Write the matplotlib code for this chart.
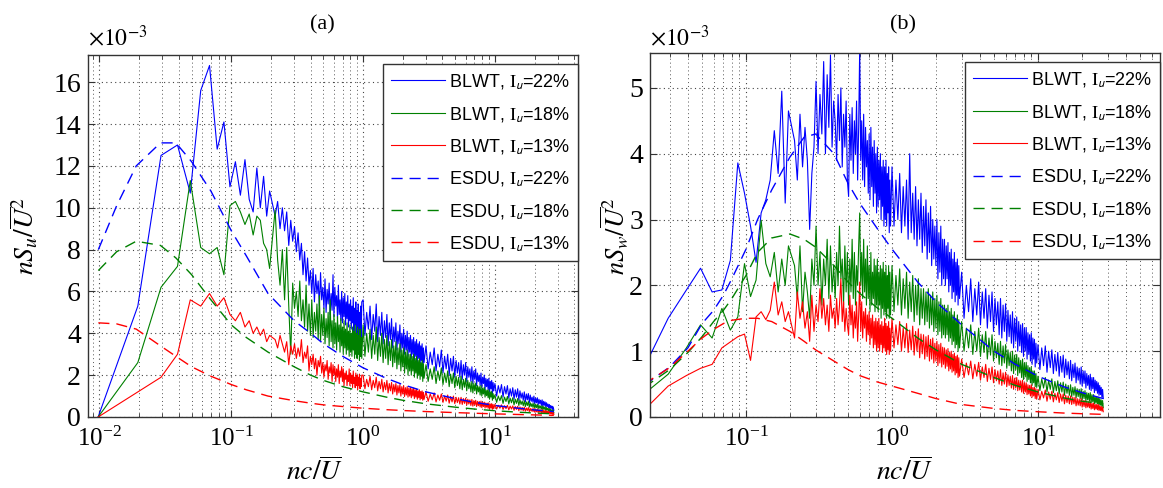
import numpy as np
import matplotlib
matplotlib.use("Agg")
import matplotlib.pyplot as plt
from matplotlib.ticker import LogLocator, NullFormatter, FixedLocator

plt.rcParams['font.family'] = ['Liberation Serif', 'DejaVu Serif']
plt.rcParams['mathtext.fontset'] = 'stix'

# ---------------- frequency grid (reduced frequency nc/U) ----------------
df = 0.009766
freq = np.concatenate([df * np.arange(1, 21),
                       np.linspace(0.215, 0.977, 80),
                       np.linspace(1.0, 2.9, 60),
                       np.linspace(3.0, 9.8, 60),
                       np.linspace(10.0, 28.0, 60)])
freq_a = freq
freq_b = freq[1:]

# ---------------- panel (a): nSu/U^2 (x 1e-3) ----------------
blwt22_a = [0.0, 5.3, 12.5, 13.0, 10.7, 15.6, 16.8, 12.8, 14.1, 11.0,
            12.2, 10.6, 12.3, 10.4, 9.8, 11.9, 10.0, 11.5, 9.6, 10.8,
            # 0.215 - 0.977
            9.6, 10.3, 9.0, 10.0, 8.9, 9.8, 8.2, 9.4, 8.4, 9.1,
            7.9, 8.8, 7.5, 8.3, 6.8, 7.9, 6.5, 7.6, 6.3, 7.0,
            5.9, 7.1, 5.5, 6.8, 5.9, 6.5, 5.3, 6.9, 5.6, 6.2,
            5.2, 6.6, 5.0, 6.1, 5.4, 6.4, 4.9, 5.9, 5.1, 6.8,
            4.8, 6.2, 5.3, 5.8, 4.7, 6.3, 4.9, 5.6, 4.6, 6.0,
            4.5, 5.7, 4.8, 5.9, 4.4, 5.5, 4.7, 5.8, 4.3, 5.4,
            4.6, 5.6, 4.2, 5.3, 4.5, 5.7, 4.1, 5.2, 4.4, 5.5,
            4.0, 5.1, 4.3, 5.4, 3.9, 5.0, 4.2, 5.3, 3.8, 5.5,
            # 1.0 - 2.9
            5.6, 3.9, 5.0, 4.2, 5.3, 3.7, 4.9, 4.1, 5.4, 3.6,
            4.8, 3.9, 5.0, 3.5, 4.6, 3.8, 4.9, 3.4, 4.5, 3.7,
            4.7, 3.3, 4.3, 3.6, 4.5, 3.2, 4.1, 3.5, 4.4, 3.1,
            4.0, 3.3, 4.2, 3.0, 3.9, 3.2, 4.1, 2.9, 3.8, 3.1,
            3.9, 2.8, 3.7, 3.0, 3.8, 2.7, 3.6, 2.9, 3.7, 2.6,
            3.5, 2.8, 3.6, 2.5, 3.4, 2.7, 3.5, 2.4, 3.3, 2.6,
            # 3.0 - 9.8
            3.4, 2.3, 3.1, 2.5, 3.3, 2.2, 3.0, 2.4, 3.2, 2.1,
            2.9, 2.3, 3.0, 2.0, 2.8, 2.2, 2.9, 1.9, 2.7, 2.1,
            2.6, 1.9, 2.7, 1.8, 2.5, 2.0, 2.6, 1.7, 2.4, 1.9,
            2.3, 1.7, 2.4, 1.6, 2.2, 1.8, 2.3, 1.5, 2.1, 1.7,
            2.0, 1.5, 2.1, 1.4, 1.9, 1.6, 2.0, 1.3, 1.85, 1.45,
            1.8, 1.3, 1.85, 1.2, 1.7, 1.35, 1.75, 1.1, 1.65, 1.25,
            # 10 - 28
            1.6, 1.0, 1.5, 1.15, 1.55, 0.95, 1.45, 1.1, 1.5, 0.9,
            1.35, 1.0, 1.4, 0.85, 1.3, 0.95, 1.35, 0.8, 1.25, 0.9,
            1.15, 0.8, 1.2, 0.72, 1.1, 0.82, 1.12, 0.68, 1.05, 0.75,
            0.95, 0.7, 1.0, 0.62, 0.9, 0.68, 0.92, 0.58, 0.85, 0.64,
            0.8, 0.55, 0.82, 0.5, 0.75, 0.56, 0.72, 0.47, 0.68, 0.5,
            0.62, 0.44, 0.6, 0.4, 0.55, 0.42, 0.52, 0.36, 0.48, 0.32]
blwt18_a = [0.0, 2.6, 6.2, 7.2, 11.3, 8.1, 7.8, 8.1, 6.8, 10.1,
            10.3, 9.8, 9.2, 9.7, 8.7, 9.6, 9.4, 8.3, 8.0, 7.1,
            # 0.215 - 0.977
            9.9, 7.5, 6.3, 8.0, 5.6, 8.1, 5.3, 3.0, 6.4, 5.2,
            6.0, 4.8, 6.5, 4.6, 5.6, 4.3, 6.3, 4.1, 5.4, 3.9,
            5.6, 3.8, 5.0, 4.1, 5.4, 3.7, 5.8, 3.6, 4.9, 3.9,
            5.2, 3.5, 4.7, 3.8, 5.0, 3.4, 5.6, 3.6, 4.6, 3.3,
            4.9, 3.5, 4.5, 3.2, 4.8, 3.6, 4.4, 3.1, 4.7, 3.4,
            4.3, 3.0, 4.6, 3.3, 4.2, 3.0, 4.5, 3.2, 4.1, 2.9,
            4.4, 3.1, 4.0, 2.9, 4.3, 3.2, 4.1, 2.8, 4.4, 3.0,
            4.0, 2.8, 4.3, 3.0, 3.9, 2.7, 4.2, 2.9, 3.8, 2.8,
            # 1.0 - 2.9
            4.4, 2.9, 4.0, 3.1, 4.2, 2.8, 3.9, 3.0, 4.3, 2.7,
            3.8, 2.9, 4.0, 2.6, 3.7, 2.8, 3.9, 2.5, 3.6, 2.7,
            3.7, 2.4, 3.4, 2.6, 3.6, 2.3, 3.3, 2.5, 3.5, 2.2,
            3.2, 2.4, 3.3, 2.1, 3.1, 2.3, 3.2, 2.0, 3.0, 2.2,
            3.0, 2.0, 2.9, 2.2, 3.0, 1.9, 2.8, 2.1, 2.9, 1.85,
            2.7, 2.0, 2.8, 1.8, 2.6, 1.95, 2.7, 1.7, 2.55, 1.85,
            # 3.0 - 9.8
            2.5, 1.7, 2.3, 1.8, 2.4, 1.6, 2.2, 1.75, 2.35, 1.55,
            2.1, 1.65, 2.2, 1.45, 2.05, 1.6, 2.1, 1.4, 1.95, 1.5,
            1.9, 1.35, 1.95, 1.3, 1.8, 1.42, 1.85, 1.25, 1.75, 1.35,
            1.65, 1.2, 1.7, 1.15, 1.6, 1.25, 1.62, 1.1, 1.5, 1.2,
            1.45, 1.05, 1.5, 1.0, 1.38, 1.1, 1.42, 0.95, 1.3, 1.02,
            1.28, 0.92, 1.3, 0.85, 1.2, 0.95, 1.22, 0.8, 1.12, 0.88,
            # 10 - 28
            1.05, 0.7, 1.0, 0.78, 1.02, 0.65, 0.95, 0.74, 0.98, 0.62,
            0.9, 0.68, 0.92, 0.58, 0.85, 0.65, 0.88, 0.55, 0.82, 0.6,
            0.76, 0.54, 0.78, 0.5, 0.72, 0.55, 0.74, 0.47, 0.68, 0.5,
            0.64, 0.46, 0.66, 0.42, 0.6, 0.45, 0.6, 0.39, 0.56, 0.42,
            0.52, 0.38, 0.54, 0.34, 0.49, 0.37, 0.48, 0.31, 0.45, 0.33,
            0.42, 0.3, 0.4, 0.27, 0.37, 0.28, 0.34, 0.23, 0.31, 0.2]
blwt13_a = [0.0, 1.2, 1.9, 3.0, 5.6, 5.3, 5.9, 5.3, 5.7, 4.9,
            4.6, 5.0, 4.3, 4.6, 4.0, 4.3, 3.9, 4.2, 3.6, 3.9,
            # 0.215 - 0.977
            3.7, 3.3, 3.9, 3.5, 3.1, 3.6, 2.5, 3.4, 3.0, 3.5,
            2.8, 3.3, 2.9, 3.7, 2.6, 3.1, 2.8, 3.4, 2.2, 2.9,
            2.5, 3.0, 2.3, 2.8, 2.0, 2.7, 2.4, 2.9, 2.1, 2.6,
            1.9, 2.5, 2.2, 2.7, 1.8, 2.4, 2.1, 2.6, 1.7, 2.5,
            2.0, 2.4, 1.7, 2.3, 1.9, 2.5, 1.6, 2.2, 1.9, 2.4,
            1.7, 2.3, 1.5, 2.1, 1.8, 2.2, 1.5, 2.0, 1.7, 2.3,
            1.5, 2.1, 1.6, 2.0, 1.4, 2.2, 1.6, 1.9, 1.4, 2.1,
            1.5, 2.0, 1.3, 1.9, 1.5, 2.05, 1.35, 1.85, 1.45, 2.0,
            # 1.0 - 2.9
            2.0, 1.35, 1.8, 1.45, 1.95, 1.3, 1.75, 1.4, 1.9, 1.25,
            1.7, 1.35, 1.8, 1.2, 1.65, 1.3, 1.75, 1.15, 1.6, 1.25,
            1.65, 1.1, 1.55, 1.2, 1.6, 1.05, 1.5, 1.15, 1.55, 1.0,
            1.45, 1.1, 1.5, 0.98, 1.4, 1.05, 1.45, 0.95, 1.38, 1.0,
            1.4, 0.92, 1.35, 1.0, 1.38, 0.88, 1.3, 0.95, 1.33, 0.85,
            1.25, 0.92, 1.3, 0.82, 1.22, 0.88, 1.25, 0.8, 1.18, 0.84,
            # 3.0 - 9.8
            1.2, 0.75, 1.1, 0.82, 1.15, 0.72, 1.05, 0.8, 1.1, 0.7,
            1.0, 0.76, 1.05, 0.66, 0.98, 0.72, 1.0, 0.64, 0.94, 0.69,
            0.92, 0.62, 0.94, 0.6, 0.88, 0.65, 0.9, 0.57, 0.85, 0.62,
            0.82, 0.55, 0.84, 0.52, 0.78, 0.57, 0.8, 0.5, 0.75, 0.54,
            0.74, 0.48, 0.76, 0.45, 0.7, 0.5, 0.71, 0.43, 0.67, 0.47,
            0.66, 0.42, 0.68, 0.39, 0.62, 0.43, 0.64, 0.37, 0.6, 0.4,
            # 10 - 28
            0.6, 0.38, 0.56, 0.42, 0.58, 0.36, 0.54, 0.4, 0.56, 0.34,
            0.52, 0.38, 0.53, 0.32, 0.5, 0.36, 0.51, 0.3, 0.48, 0.33,
            0.46, 0.3, 0.47, 0.28, 0.43, 0.31, 0.45, 0.26, 0.41, 0.28,
            0.4, 0.26, 0.41, 0.23, 0.37, 0.25, 0.38, 0.21, 0.35, 0.23,
            0.34, 0.21, 0.35, 0.19, 0.31, 0.2, 0.31, 0.17, 0.29, 0.18,
            0.28, 0.17, 0.27, 0.15, 0.25, 0.15, 0.23, 0.13, 0.21, 0.12]

esdu_freq_a = [0.0098, 0.0135, 0.019, 0.029, 0.038, 0.05, 0.07, 0.1, 0.13, 0.19,
               0.3, 0.4, 0.5, 0.7, 1.0, 1.5, 2, 3, 5, 7, 10, 15, 20, 28]
esdu22_a = [8.0, 10.1, 12.0, 13.1, 13.1, 12.2, 10.8, 8.9, 7.7, 5.9,
            4.6, 4.0, 3.5, 2.9, 2.35, 1.85, 1.55, 1.2, 0.88, 0.7, 0.55, 0.42, 0.34, 0.26]
esdu18_a = [7.0, 7.9, 8.4, 8.2, 7.6, 6.8, 5.6, 4.4, 3.8, 3.1,
            2.4, 2.0, 1.75, 1.45, 1.2, 0.95, 0.8, 0.63, 0.47, 0.38, 0.3, 0.23, 0.19, 0.15]
esdu13_a = [4.5, 4.45, 4.2, 3.4, 2.9, 2.4, 1.95, 1.55, 1.3, 1.0,
            0.78, 0.66, 0.58, 0.5, 0.42, 0.35, 0.31, 0.26, 0.21, 0.18, 0.15, 0.12, 0.1, 0.08]

# ---------------- panel (b): nSw/U^2 (x 1e-3) ----------------
blwt22_b = [0.7, 1.5, 1.93, 2.26, 1.9, 1.93, 2.38, 3.86, 3.4,
            2.9, 2.35, 3.1, 3.3, 3.6, 4.35, 3.7, 4.95, 3.25, 4.65,
            # 0.215 - 0.977
            4.2, 3.6, 4.6, 3.8, 4.4, 3.9, 2.85, 3.7, 4.1, 5.1,
            4.0, 4.9, 4.3, 5.4, 4.0, 5.2, 4.4, 5.5, 4.1, 4.8,
            4.5, 3.9, 4.9, 4.2, 5.0, 3.8, 4.6, 4.1, 4.8, 3.6,
            3.35, 4.6, 3.9, 4.7, 3.7, 4.5, 4.0, 4.8, 3.6, 4.4,
            5.6, 3.9, 4.5, 3.6, 4.6, 3.5, 4.4, 3.8, 4.2, 3.4,
            4.3, 3.3, 4.4, 3.5, 4.1, 3.2, 4.2, 3.4, 4.0, 3.1,
            4.1, 3.2, 3.9, 3.3, 4.0, 3.0, 3.8, 3.2, 3.9, 2.9,
            3.8, 3.0, 3.9, 2.9, 3.7, 3.1, 3.8, 2.8, 3.6, 2.9,
            # 1.0 - 2.9
            3.8, 2.9, 3.6, 3.0, 3.7, 2.8, 3.5, 2.9, 3.6, 2.7,
            4.0, 2.8, 3.4, 2.7, 3.5, 2.6, 3.3, 2.7, 3.4, 2.5,
            3.2, 2.6, 3.3, 2.4, 3.1, 2.5, 3.2, 2.3, 3.0, 2.4,
            2.9, 2.3, 3.0, 2.1, 2.8, 2.2, 2.9, 2.0, 2.7, 2.1,
            2.7, 2.0, 2.6, 2.1, 2.65, 1.9, 2.5, 2.0, 2.55, 1.8,
            2.4, 1.9, 2.5, 1.75, 2.35, 1.85, 2.4, 1.7, 2.3, 1.8,
            # 3.0 - 9.8
            2.2, 1.5, 2.0, 1.6, 2.1, 1.45, 1.95, 1.55, 2.05, 1.4,
            1.9, 1.5, 1.95, 1.35, 1.85, 1.45, 1.9, 1.3, 1.8, 1.4,
            1.75, 1.25, 1.8, 1.2, 1.7, 1.3, 1.72, 1.15, 1.62, 1.22,
            1.55, 1.12, 1.6, 1.05, 1.5, 1.15, 1.52, 1.0, 1.45, 1.08,
            1.4, 0.98, 1.42, 0.92, 1.35, 1.0, 1.36, 0.88, 1.28, 0.95,
            1.25, 0.85, 1.28, 0.8, 1.2, 0.88, 1.18, 0.76, 1.12, 0.82,
            # 10 - 28
            1.1, 0.72, 1.05, 0.78, 1.08, 0.68, 1.0, 0.75, 1.02, 0.66,
            0.95, 0.7, 0.98, 0.62, 0.92, 0.68, 0.94, 0.6, 0.88, 0.64,
            0.84, 0.58, 0.86, 0.55, 0.8, 0.6, 0.82, 0.52, 0.76, 0.56,
            0.74, 0.5, 0.76, 0.47, 0.7, 0.51, 0.7, 0.44, 0.66, 0.48,
            0.63, 0.42, 0.65, 0.4, 0.6, 0.43, 0.6, 0.37, 0.56, 0.4,
            0.54, 0.36, 0.52, 0.33, 0.48, 0.34, 0.45, 0.3, 0.42, 0.28]
blwt18_b = [0.33, 0.65, 1.05, 1.4, 1.2, 1.65, 1.32, 1.52, 2.33,
            1.83, 2.08, 2.99, 2.33, 2.13, 2.5, 1.9, 2.4, 2.0, 2.6,
            # 0.215 - 0.977
            2.3, 1.8, 2.6, 1.6, 2.2, 1.9, 1.5, 2.4, 2.0, 2.9,
            2.0, 2.5, 1.7, 2.4, 2.0, 2.7, 1.8, 2.6, 1.9, 2.3,
            1.8, 2.5, 2.0, 2.9, 2.1, 2.4, 1.7, 2.6, 1.9, 2.5,
            1.7, 2.4, 1.9, 2.7, 1.8, 2.5, 1.7, 2.3, 2.0, 2.6,
            3.1, 2.0, 2.5, 1.8, 2.7, 1.9, 2.4, 1.7, 2.6, 1.8,
            2.3, 1.6, 2.5, 1.7, 2.2, 1.8, 2.4, 1.6, 2.3, 1.7,
            2.4, 1.6, 2.2, 1.7, 2.3, 1.5, 2.25, 1.65, 2.35, 1.55,
            2.2, 1.6, 2.3, 1.5, 2.15, 1.65, 2.3, 1.5, 2.2, 1.55,
            # 1.0 - 2.9
            2.3, 1.6, 2.15, 1.7, 2.25, 1.55, 2.1, 1.65, 2.2, 1.5,
            2.05, 1.6, 2.15, 1.45, 2.0, 1.55, 2.1, 1.4, 1.95, 1.5,
            1.95, 1.4, 1.9, 1.45, 1.95, 1.35, 1.85, 1.4, 1.9, 1.3,
            1.8, 1.35, 1.85, 1.25, 1.75, 1.3, 1.8, 1.2, 1.7, 1.25,
            1.7, 1.2, 1.65, 1.25, 1.7, 1.15, 1.6, 1.2, 1.65, 1.1,
            1.55, 1.15, 1.6, 1.05, 1.5, 1.1, 1.55, 1.0, 1.48, 1.05,
            # 3.0 - 9.8
            1.45, 1.0, 1.35, 1.05, 1.4, 0.95, 1.3, 1.0, 1.35, 0.92,
            1.25, 0.98, 1.3, 0.88, 1.2, 0.94, 1.25, 0.85, 1.15, 0.9,
            1.12, 0.8, 1.15, 0.78, 1.08, 0.82, 1.1, 0.74, 1.02, 0.78,
            0.98, 0.7, 1.0, 0.66, 0.94, 0.72, 0.95, 0.63, 0.9, 0.67,
            0.86, 0.6, 0.88, 0.57, 0.82, 0.61, 0.83, 0.54, 0.78, 0.57,
            0.75, 0.52, 0.76, 0.48, 0.7, 0.52, 0.7, 0.46, 0.66, 0.45,
            # 10 - 28
            0.62, 0.4, 0.58, 0.44, 0.6, 0.38, 0.56, 0.42, 0.58, 0.37,
            0.54, 0.4, 0.55, 0.35, 0.52, 0.38, 0.53, 0.33, 0.5, 0.36,
            0.48, 0.33, 0.49, 0.31, 0.45, 0.33, 0.46, 0.29, 0.43, 0.31,
            0.42, 0.28, 0.43, 0.26, 0.39, 0.28, 0.4, 0.24, 0.37, 0.26,
            0.36, 0.24, 0.37, 0.22, 0.34, 0.23, 0.34, 0.2, 0.31, 0.21,
            0.31, 0.2, 0.3, 0.18, 0.28, 0.18, 0.26, 0.16, 0.25, 0.14]
blwt13_b = [0.08, 0.47, 0.63, 0.74, 0.8, 1.05, 1.14, 1.22, 1.26,
            0.86, 1.52, 1.6, 1.48, 1.62, 2.05, 1.55, 1.75, 1.45, 1.6,
            # 0.215 - 0.977
            1.2, 1.9, 1.5, 1.75, 1.35, 1.6, 1.15, 1.85, 1.3, 1.7,
            1.45, 1.95, 1.5, 1.8, 1.4, 1.7, 1.3, 1.85, 1.5, 1.65,
            1.35, 1.8, 1.4, 1.7, 2.1, 1.45, 1.75, 1.3, 1.65, 1.4,
            1.25, 1.85, 1.4, 1.7, 1.2, 1.6, 1.35, 1.75, 1.15, 1.55,
            2.05, 1.3, 1.75, 1.2, 1.6, 1.35, 1.65, 1.15, 1.55, 1.25,
            1.6, 1.1, 1.5, 1.2, 1.55, 1.05, 1.45, 1.1, 1.5, 1.0,
            1.45, 1.05, 1.5, 1.0, 1.4, 1.1, 1.45, 0.98, 1.38, 1.05,
            1.5, 1.0, 1.42, 0.95, 1.38, 1.02, 1.45, 0.95, 1.35, 1.0,
            # 1.0 - 2.9
            1.5, 1.05, 1.4, 1.1, 1.45, 1.0, 1.35, 1.05, 1.42, 0.98,
            1.32, 1.02, 1.38, 0.94, 1.3, 1.0, 1.34, 0.9, 1.26, 0.96,
            1.25, 0.88, 1.22, 0.92, 1.24, 0.85, 1.18, 0.88, 1.2, 0.82,
            1.12, 0.85, 1.15, 0.78, 1.1, 0.82, 1.12, 0.76, 1.06, 0.8,
            1.05, 0.74, 1.02, 0.77, 1.04, 0.7, 0.98, 0.73, 1.0, 0.68,
            0.95, 0.7, 0.97, 0.64, 0.92, 0.67, 0.94, 0.6, 0.9, 0.62,
            # 3.0 - 9.8
            0.88, 0.6, 0.82, 0.64, 0.85, 0.58, 0.8, 0.62, 0.83, 0.56,
            0.76, 0.6, 0.8, 0.54, 0.74, 0.57, 0.76, 0.52, 0.72, 0.55,
            0.7, 0.5, 0.72, 0.48, 0.67, 0.5, 0.68, 0.46, 0.64, 0.48,
            0.62, 0.44, 0.63, 0.42, 0.59, 0.44, 0.6, 0.4, 0.56, 0.41,
            0.55, 0.38, 0.56, 0.36, 0.52, 0.38, 0.52, 0.34, 0.49, 0.35,
            0.48, 0.32, 0.49, 0.3, 0.45, 0.32, 0.45, 0.28, 0.43, 0.27,
            # 10 - 28
            0.42, 0.26, 0.39, 0.29, 0.41, 0.24, 0.38, 0.27, 0.39, 0.23,
            0.36, 0.26, 0.37, 0.22, 0.35, 0.24, 0.35, 0.2, 0.33, 0.22,
            0.32, 0.2, 0.32, 0.19, 0.3, 0.2, 0.3, 0.17, 0.28, 0.18,
            0.27, 0.17, 0.28, 0.15, 0.25, 0.16, 0.25, 0.14, 0.23, 0.15,
            0.23, 0.14, 0.23, 0.12, 0.21, 0.13, 0.21, 0.11, 0.19, 0.12,
            0.19, 0.11, 0.19, 0.1, 0.17, 0.1, 0.16, 0.09, 0.15, 0.08]

esdu_freq_b = [0.02, 0.03, 0.04, 0.05, 0.06, 0.07, 0.08, 0.1, 0.12, 0.15,
               0.2, 0.25, 0.3, 0.4, 0.5, 0.6, 0.8, 1.0, 1.5, 2,
               3, 5, 7, 10, 15, 20, 28]
esdu22_b = [0.48, 0.76, 1.05, 1.42, 1.62, 1.85, 2.1, 2.55, 3.0, 3.45,
            3.95, 4.25, 4.3, 4.0, 3.55, 3.25, 2.85, 2.55, 2.05, 1.75,
            1.4, 1.0, 0.8, 0.62, 0.46, 0.37, 0.28]
esdu18_b = [0.45, 0.72, 0.98, 1.22, 1.45, 1.62, 1.8, 2.15, 2.5, 2.72,
            2.78, 2.7, 2.58, 2.3, 2.05, 1.88, 1.65, 1.5, 1.2, 1.02,
            0.8, 0.6, 0.48, 0.38, 0.29, 0.24, 0.2]
esdu13_b = [0.5, 0.75, 1.0, 1.2, 1.33, 1.42, 1.47, 1.5, 1.5, 1.45,
            1.3, 1.15, 1.02, 0.85, 0.72, 0.63, 0.53, 0.47, 0.36, 0.28,
            0.19, 0.13, 0.1, 0.08, 0.06, 0.05, 0.04]

labels = ['BLWT, $\\mathrm{I}_{\\mathsf{u}}$=22%', 'BLWT, $\\mathrm{I}_{\\mathsf{u}}$=18%',
          'BLWT, $\\mathrm{I}_{\\mathsf{u}}$=13%', 'ESDU, $\\mathrm{I}_{\\mathsf{u}}$=22%',
          'ESDU, $\\mathrm{I}_{\\mathsf{u}}$=18%', 'ESDU, $\\mathrm{I}_{\\mathsf{u}}$=13%']
colors = ['#0000ff', '#008000', '#ff0000']
dash = (0, (8, 5))

W, H = 1163, 488
fig = plt.figure(figsize=(W / 100, H / 100), dpi=100)
ax_a = fig.add_axes([88 / W, 1 - 417 / H, (578 - 88) / W, (417 - 55) / H])
ax_b = fig.add_axes([650 / W, 1 - 417 / H, (1160 - 650) / W, (417 - 53) / H])


def draw(ax, f, blwt, ef, esdu):
    for vals, c, lab in zip(blwt, colors, labels[:3]):
        n = min(len(f), len(vals))
        ax.plot(f[:n], vals[:n], color=c, lw=0.8, label=lab)
    for vals, c, lab in zip(esdu, colors, labels[3:]):
        ax.plot(ef, vals, color=c, lw=1.0, linestyle=dash, label=lab)
    ax.set_xscale('log')
    ax.xaxis.set_major_locator(LogLocator(base=10, numticks=10))
    ax.xaxis.set_minor_locator(LogLocator(base=10, subs=np.arange(2, 10), numticks=20))
    ax.xaxis.set_minor_formatter(NullFormatter())
    ax.grid(True, which='major', linestyle=(0, (1, 3)), color='#444444', lw=0.8)
    ax.grid(True, which='minor', axis='x', linestyle=(0, (1, 3)), color='#555555', lw=0.7)
    ax.tick_params(which='both', direction='in', top=True, right=True, colors='#333333',
                   labelcolor='black')
    ax.tick_params(which='major', length=5, width=0.8)
    ax.tick_params(which='minor', length=3, width=0.6)
    ax.tick_params(axis='x', pad=7, labelsize=18)
    ax.tick_params(axis='y', pad=5, labelsize=20)
    for s in ax.spines.values():
        s.set_color('#333333')
        s.set_linewidth(1.0)
    leg = ax.legend(loc='upper right', bbox_to_anchor=(1.0, 0.975), borderaxespad=0,
                    prop={'family': ['Liberation Sans', 'DejaVu Sans'], 'size': 13},
                    handlelength=3.0, handletextpad=0.2, labelspacing=0.75,
                    borderpad=0.45, fancybox=False, framealpha=1, edgecolor='#333333')
    leg.get_frame().set_linewidth(1.0)


draw(ax_a, freq_a, [blwt22_a, blwt18_a, blwt13_a], esdu_freq_a, [esdu22_a, esdu18_a, esdu13_a])
ax_a.set_xlim(0.00818, 42.7)
ax_a.set_ylim(0, 17.3)
ax_a.yaxis.set_major_locator(FixedLocator([0, 2, 4, 6, 8, 10, 12, 14, 16]))

draw(ax_b, freq_b, [blwt22_b, blwt18_b, blwt13_b], esdu_freq_b, [esdu22_b, esdu18_b, esdu13_b])
ax_b.set_xlim(0.022, 68.5)
ax_b.set_ylim(0, 5.53)
ax_b.yaxis.set_major_locator(FixedLocator([0, 1, 2, 3, 4, 5]))

# titles, multipliers and axis labels
fig.text(322 / W, 1 - 25 / H, '(a)', ha='center', va='center', fontsize=16)
fig.text(903 / W, 1 - 25 / H, '(b)', ha='center', va='center', fontsize=16)
fig.text(88 / W, 1 - 38 / H, r'$\times10^{-3}$', ha='left', va='center', fontsize=17)
fig.text(650 / W, 1 - 38 / H, r'$\times10^{-3}$', ha='left', va='center', fontsize=17)
fig.text(24 / W, 1 - 236 / H, r'$nS_u/\overline{U}^2$', rotation=90, ha='center', va='center', fontsize=20)
fig.text(615 / W, 1 - 236 / H, r'$nS_w/\overline{U}^2$', rotation=90, ha='center', va='center', fontsize=19)
fig.text(315 / W, 1 - 472 / H, r'$nc/\overline{U}$', ha='center', va='center', fontsize=20)
fig.text(905 / W, 1 - 472 / H, r'$nc/\overline{U}$', ha='center', va='center', fontsize=20)

fig.savefig('out.png', dpi=100)
